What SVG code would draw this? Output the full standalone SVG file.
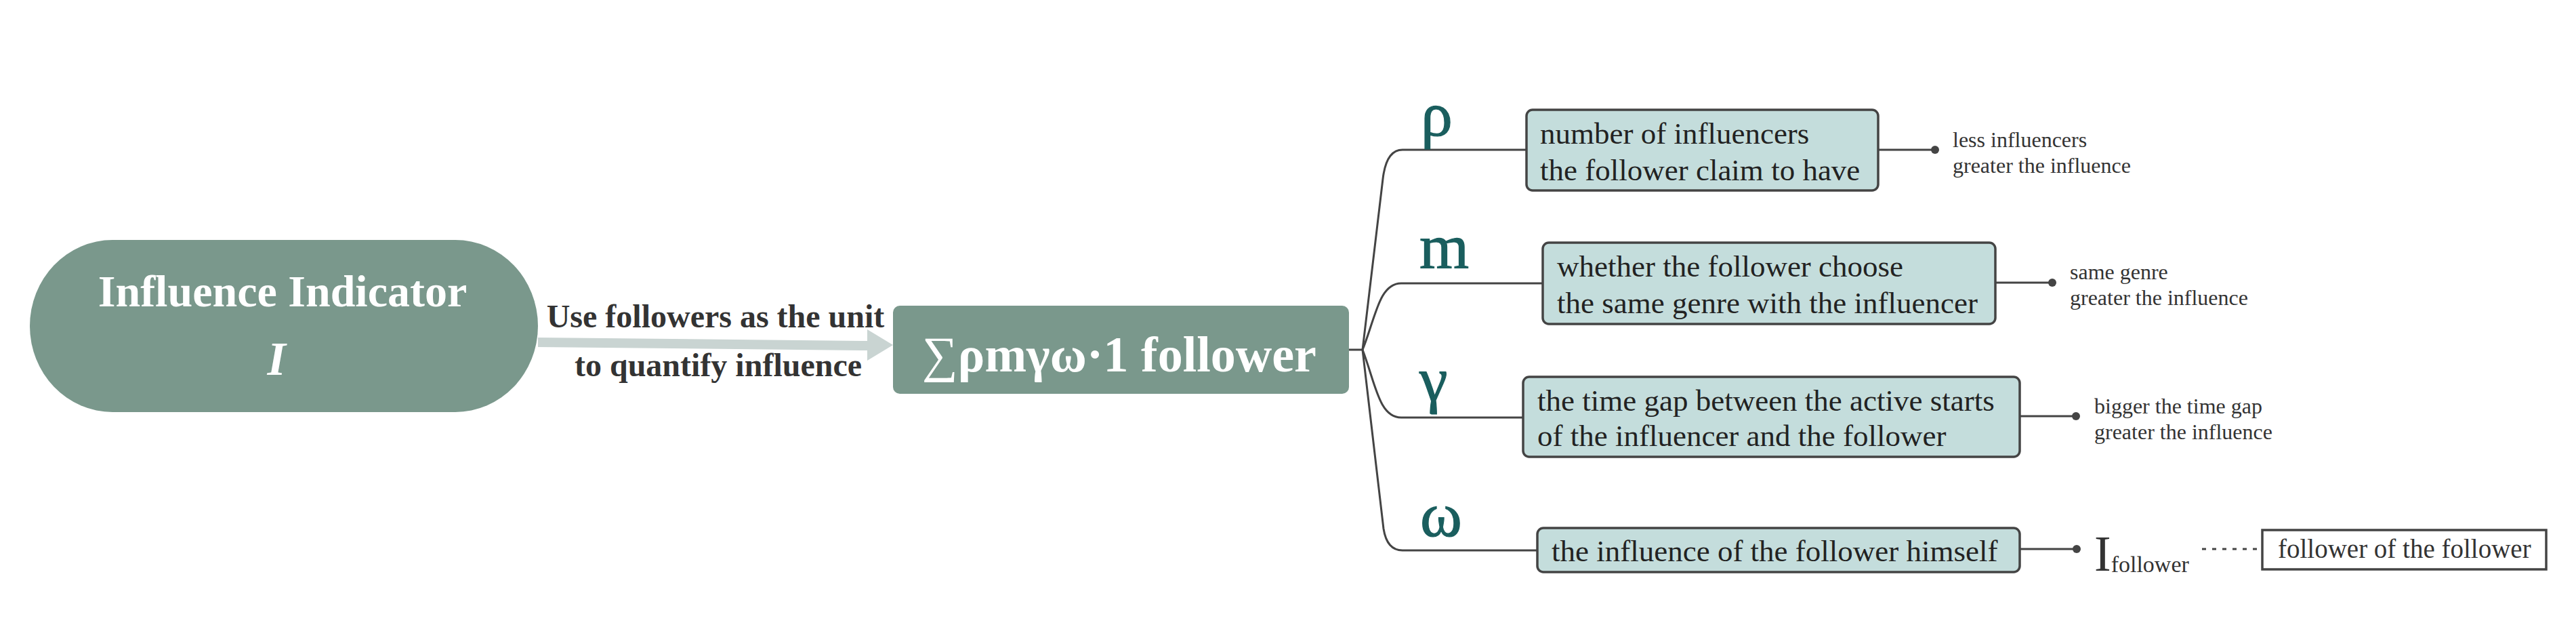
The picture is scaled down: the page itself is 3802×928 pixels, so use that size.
<svg xmlns="http://www.w3.org/2000/svg" width="3802" height="928" viewBox="0 0 3802 928">
<style>
.serif{font-family:"Liberation Serif","Times New Roman",serif}
.main{fill:#7A988C}
.box{fill:#C4DDDC;stroke:#444;stroke-width:3.5}
.boxt{font-family:"Liberation Serif","Times New Roman",serif;font-size:45px;fill:#222}
.side{font-family:"Liberation Serif","Times New Roman",serif;font-size:32px;fill:#333}
.greek{font-family:"Liberation Serif","Times New Roman",serif;font-size:94px;font-weight:normal;fill:#1A5E5E;stroke:#1A5E5E;stroke-width:1.2}
.wire{fill:none;stroke:#444;stroke-width:3}
.dot{fill:#444}
</style>
<rect width="3802" height="928" fill="#ffffff"/>

<g id="connectors">
  <polygon points="794,498 1280,503 1280,486 1318,509 1280,532 1280,517 794,512" fill="#C9D4D2"/>
  <path class="wire" d="M1991 516 H2011"/>
  <path class="wire" d="M2011 516 L2041 264 Q2046 221 2070 221 H2253"/>
  <path class="wire" d="M2011 516 C2030 470 2035 418 2068 418 H2277"/>
  <path class="wire" d="M2011 516 C2030 565 2035 616 2068 616 H2248"/>
  <path class="wire" d="M2011 516 L2042 780 Q2047 812 2070 812 H2269"/>
  <path class="wire" d="M2772 221 H2856"/>
  <circle class="dot" cx="2856" cy="221" r="6"/>
  <path class="wire" d="M2945 417 H3029"/>
  <circle class="dot" cx="3029" cy="417" r="6"/>
  <path class="wire" d="M2981 614 H3064"/>
  <circle class="dot" cx="3064" cy="614" r="6"/>
  <path class="wire" d="M2981 810 H3065"/>
  <circle class="dot" cx="3065" cy="810" r="6"/>
  <path d="M3250 810 H3338" stroke="#444" stroke-width="3" stroke-dasharray="6 9" fill="none"/>
</g>

<g id="influence-indicator">
  <rect class="main" x="44" y="354" width="750" height="254" rx="122" ry="127"/>
  <text class="serif" x="417" y="452" font-size="66" font-weight="bold" fill="#fff" text-anchor="middle">Influence Indicator</text>
  <text class="serif" x="408" y="553" font-size="70" font-weight="bold" font-style="italic" fill="#fff" text-anchor="middle">I</text>
</g>

<g id="arrow-label">
  <text class="serif" x="1056" y="483" font-size="48" font-weight="bold" fill="#333" text-anchor="middle">Use followers as the unit</text>
  <text class="serif" x="1060" y="555" font-size="48" font-weight="bold" fill="#333" text-anchor="middle">to quantify influence</text>
</g>

<g id="sum-node">
  <rect class="main" x="1318" y="451" width="673" height="130" rx="10"/>
  <text class="serif" x="1652" y="548" font-size="74" font-weight="bold" fill="#fff" text-anchor="middle"><tspan font-weight="normal">∑</tspan>ρmγω·1 follower</text>
</g>

<g id="rho">
  <text class="greek" x="2097" y="200">ρ</text>
  <rect class="box" x="2253" y="162" width="519" height="119" rx="9"/>
  <text class="boxt" x="2273" y="212">number of influencers</text>
  <text class="boxt" x="2273" y="266">the follower claim to have</text>
  <text class="side" x="2882" y="217">less influencers</text>
  <text class="side" x="2882" y="255">greater the influence</text>
</g>

<g id="m">
  <text class="greek" x="2095" y="395">m</text>
  <rect class="box" x="2277" y="358" width="668" height="120" rx="9"/>
  <text class="boxt" x="2298" y="408">whether the follower choose</text>
  <text class="boxt" x="2298" y="462">the same genre with the influencer</text>
  <text class="side" x="3055" y="412">same genre</text>
  <text class="side" x="3055" y="450">greater the influence</text>
</g>

<g id="gamma">
  <text class="greek" x="2095" y="591">γ</text>
  <rect class="box" x="2248" y="556" width="733" height="118" rx="9"/>
  <text class="boxt" x="2269" y="606">the time gap between the active starts</text>
  <text class="boxt" x="2269" y="658">of the influencer and the follower</text>
  <text class="side" x="3091" y="610">bigger the time gap</text>
  <text class="side" x="3091" y="648">greater the influence</text>
</g>

<g id="omega">
  <text class="greek" x="2096" y="791">ω</text>
  <rect class="box" x="2269" y="779" width="712" height="65" rx="9"/>
  <text class="boxt" x="2290" y="828">the influence of the follower himself</text>
  <text class="serif" x="3091" y="842" font-size="74" fill="#333">I<tspan font-size="34" dy="2">follower</tspan></text>
</g>

<g id="follower-of-follower">
  <rect x="3339" y="782" width="419" height="58" fill="#fff" stroke="#444" stroke-width="3.5"/>
  <text class="serif" x="3362" y="823" font-size="39" fill="#333">follower of the follower</text>
</g>
</svg>
